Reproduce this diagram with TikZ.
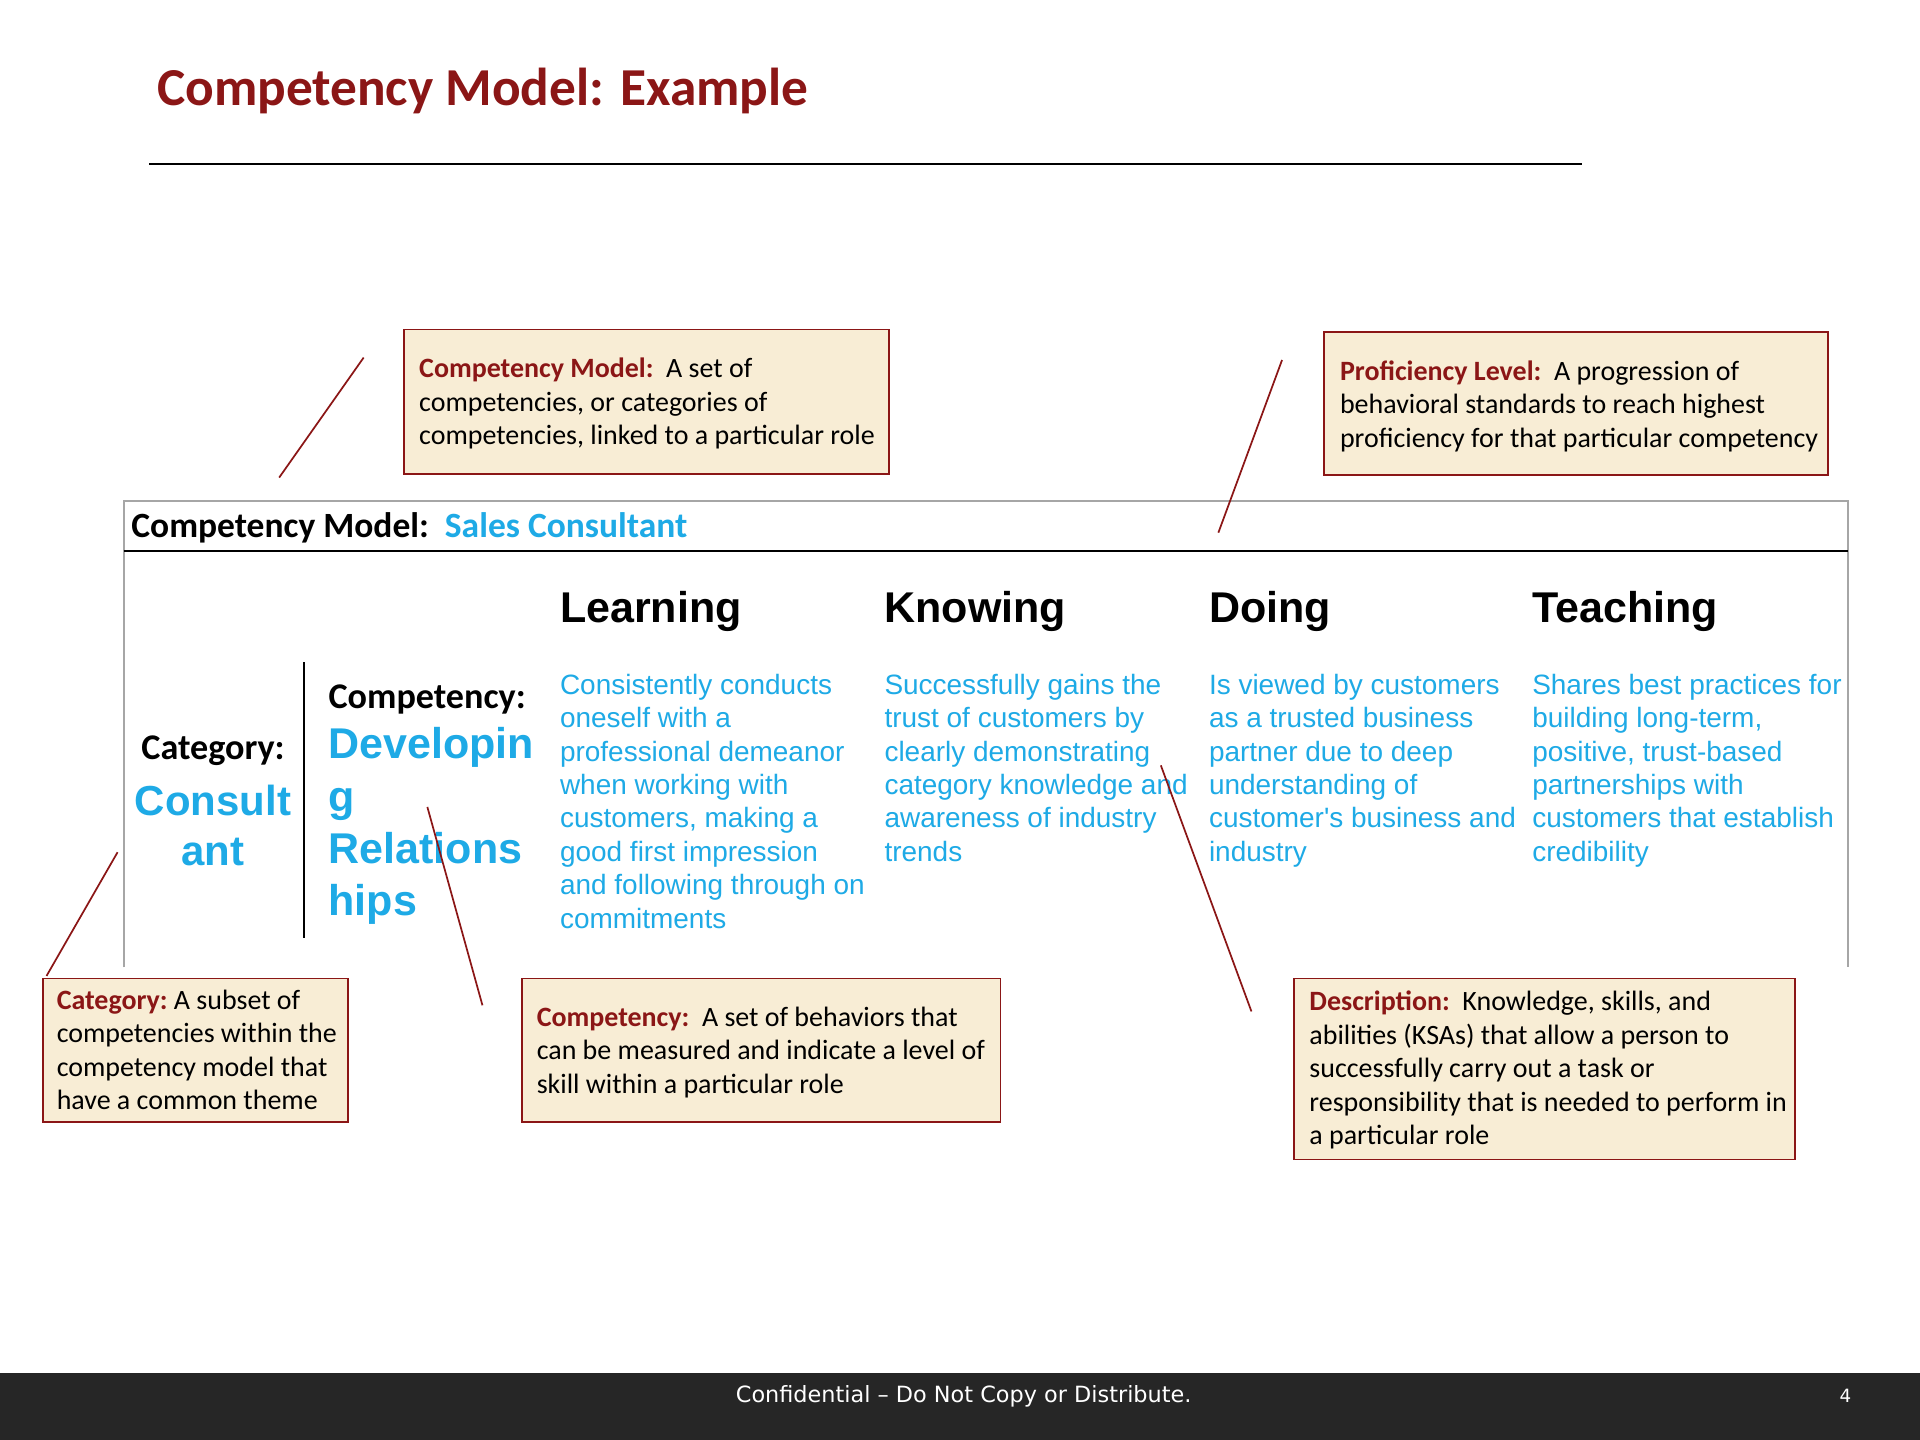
\documentclass[tikz,border=0pt]{standalone}
\usepackage{fontspec}
\setmainfont{Carlito}
\newfontfamily\arialf{Liberation Sans}
\newfontfamily\dejaf{DejaVu Sans}
\definecolor{dred}{HTML}{8B1616}
\definecolor{sblue}{HTML}{1EAAE6}
\definecolor{cream}{HTML}{F8EDD5}
\definecolor{foot}{HTML}{262626}
\begin{document}
\begin{tikzpicture}[x=0.02cm,y=-0.02cm,
  callout/.style={draw=dred,fill=cream,line width=0.8pt},
  ctext/.style={anchor=north west,align=left,inner sep=0pt,font=\fontsize{13}{15.6}\selectfont},
  desc/.style={anchor=north west,align=left,inner sep=0pt,text=sblue,font=\arialf\fontsize{13}{15.55}\selectfont},
  colhead/.style={anchor=west,inner sep=0pt,font=\arialf\bfseries\fontsize{20}{24}\selectfont},
  pointer/.style={draw=dred,line width=0.8pt}]
\useasboundingbox (0,0) rectangle (1568,1176);
\fill[white] (0,0) rectangle (1568,1176);
% title
\node[anchor=west,inner sep=0pt,text=dred,font=\bfseries\fontsize{24.8}{28}\selectfont] (title) at (128,74) {Competency Model: Example};
\draw[line width=0.6pt] (122,134) -- (1292,134);
% main frame
\draw[gray!70,line width=0.8pt] (101,790) -- (101,409) -- (1509,409) -- (1509,790);
\draw[line width=1pt] (101,450) -- (1509,450);
\node[anchor=west,inner sep=0pt,font=\bfseries\fontsize{16.5}{19}\selectfont] (hdr) at (107,431) {Competency Model:\ \ \textcolor{sblue}{Sales Consultant}};
\draw[line width=0.8pt] (248,541) -- (248,766);
% category
\node[inner sep=0pt,font=\bfseries\fontsize{16.8}{19}\selectfont] (cat) at (174,613) {Category:};
\node[inner sep=0pt,align=center,text=sblue,font=\arialf\bfseries\fontsize{19.5}{23.5}\selectfont] (catn) at (174,674) {Consult\\ant};
% competency
\node[anchor=west,inner sep=0pt,font=\bfseries\fontsize{16.8}{19}\selectfont] (comp) at (268,571) {Competency:};
\node[anchor=north west,inner sep=0pt,align=left,text=sblue,font=\arialf\bfseries\fontsize{20}{24.2}\selectfont] (compn) at (268,594) {Developin\\g\\Relations\\hips};
% columns
\node[colhead] (h1) at (457,499) {Learning};
\node[colhead] (h2) at (722,499) {Knowing};
\node[colhead] (h3) at (987,499) {Doing};
\node[colhead] (h4) at (1251,499) {Teaching};
\node[desc] (d1) at (457,550) {Consistently conducts\\oneself with a\\professional demeanor\\when working with\\customers, making a\\good first impression\\and following through on\\commitments};
\node[desc] (d2) at (722,550) {Successfully gains the\\trust of customers by\\clearly demonstrating\\category knowledge and\\awareness of industry\\trends};
\node[desc] (d3) at (987,550) {Is viewed by customers\\as a trusted business\\partner due to deep\\understanding of\\customer's business and\\industry};
\node[desc] (d4) at (1251,550) {Shares best practices for\\building long-term,\\positive, trust-based\\partnerships with\\customers that establish\\credibility};
% callouts
\draw[callout] (330,269) rectangle (726,387);
\node[ctext] (c1) at (342,292) {\textcolor{dred}{\textbf{Competency Model:}}\ \ A set of\\competencies, or categories of\\competencies, linked to a particular role};
\draw[callout] (1081,271) rectangle (1493,388);
\node[ctext] (c2) at (1094,294) {\textcolor{dred}{\textbf{Proficiency Level:}}\ \ A progression of\\behavioral standards to reach highest\\proficiency for that particular competency};
\draw[callout] (35,799) rectangle (284,916);
\node[ctext] (c3) at (46,808) {\textcolor{dred}{\textbf{Category:}}\ A subset of\\competencies within the\\competency model that\\have a common theme};
\draw[callout] (426,799) rectangle (817,916);
\node[ctext] (c4) at (438,822) {\textcolor{dred}{\textbf{Competency:}}\ \ A set of behaviors that\\can be measured and indicate a level of\\skill within a particular role};
\draw[callout] (1057,799) rectangle (1466,947);
\node[ctext] (c5) at (1069,809) {\textcolor{dred}{\textbf{Description:}}\ \ Knowledge, skills, and\\abilities (KSAs) that allow a person to\\successfully carry out a task or\\responsibility that is needed to perform in\\a particular role};
% pointers
\coordinate (p1a) at (228,390); \coordinate (p1b) at (297,292);
\coordinate (p2a) at (995,435); \coordinate (p2b) at (1047,294);
\coordinate (p3a) at (38,797); \coordinate (p3b) at (96,696);
\coordinate (p4a) at (394,821); \coordinate (p4b) at (349,659);
\coordinate (p5a) at (1022,826); \coordinate (p5b) at (948,625);
\draw[pointer] (p1a) -- (p1b);
\draw[pointer] (p2a) -- (p2b);
\draw[pointer] (p3a) -- (p3b);
\draw[pointer] (p4a) -- (p4b);
\draw[pointer] (p5a) -- (p5b);
% footer
\fill[foot] (0,1121) rectangle (1568,1176);
\node[text=white,inner sep=0pt,font=\dejaf\fontsize{10.4}{12}\selectfont] (ft) at (787,1140) {Confidential – Do Not Copy or Distribute.};
\node[text=white,inner sep=0pt,font=\dejaf\fontsize{8.5}{10}\selectfont] (pg) at (1507,1140) {4};
\end{tikzpicture}
\end{document}
